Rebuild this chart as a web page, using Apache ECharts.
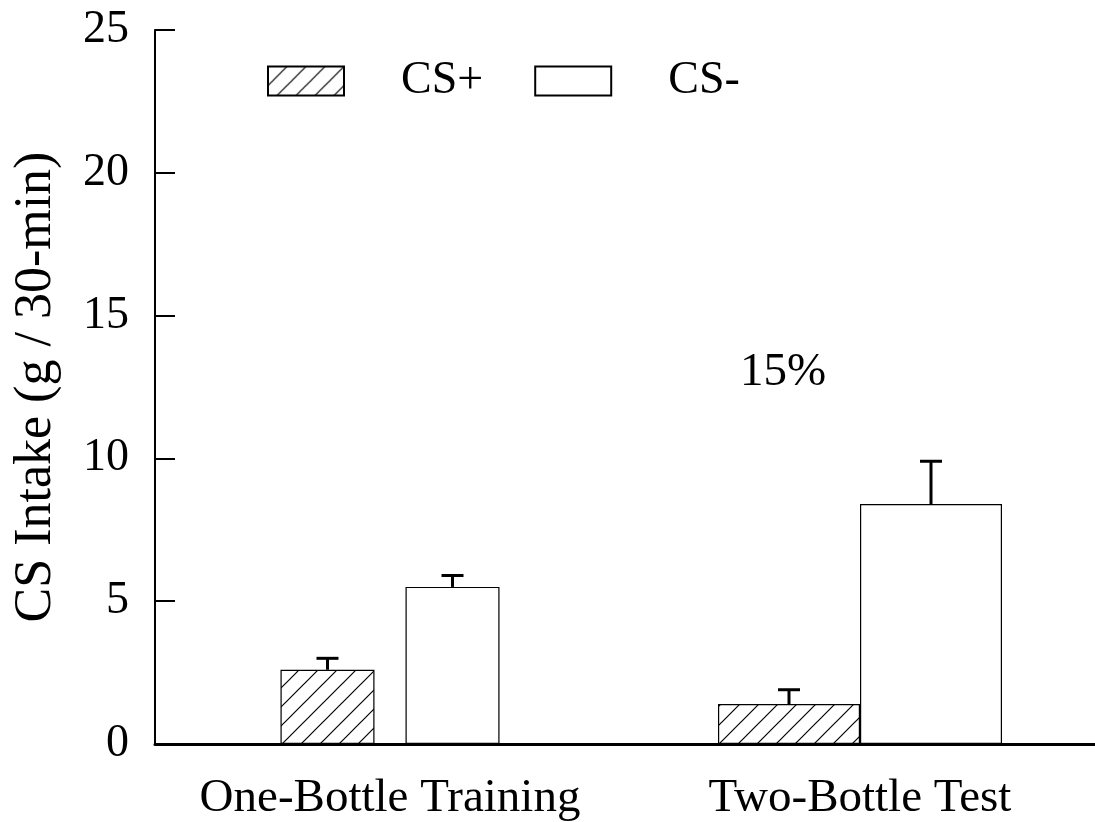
<!DOCTYPE html>
<html>
<head>
<meta charset="utf-8">
<script src="https://cdn.jsdelivr.net/npm/echarts@6/dist/echarts.min.js"></script>
<style>
  html, body { margin: 0; padding: 0; background: #fff; }
  #chart { width: 1095px; height: 822px; }
</style>
</head>
<body>
<div id="chart"></div>
<script>
// Mean CS intake (g / 30-min) with SEM, per phase
const categories = ['One-Bottle Training', 'Two-Bottle Test'];
const seriesNames = ['CS+', 'CS-'];
const csPlusMean = [2.6, 1.4];
const csPlusSem = [0.4, 0.5];
const csMinusMean = [5.5, 8.4];
const csMinusSem = [0.4, 1.5];
const yTicks = [0, 5, 10, 15, 20, 25];
const concentrationNote = '15%';

const FONT = '"Liberation Serif", "Times New Roman", Times, serif';
const means = [csPlusMean, csMinusMean];
const sems = [csPlusSem, csMinusSem];

// bar width / spacing used in each phase group
const groupLayout = [
  { barWidth: 94, gapRatio: 0.33 },
  { barWidth: 142, gapRatio: 0 }
];

// diagonal "///" hatch fill
function hatchPattern() {
  const s = 19;
  const c = document.createElement('canvas');
  c.width = s; c.height = s;
  const g = c.getContext('2d');
  g.fillStyle = '#fff';
  g.fillRect(0, 0, s, s);
  g.strokeStyle = '#000';
  g.lineWidth = 1.2;
  g.beginPath();
  g.moveTo(-1, s + 1); g.lineTo(s + 1, -1);
  g.moveTo(-1, 1); g.lineTo(1, -1);
  g.moveTo(s - 1, s + 1); g.lineTo(s + 1, s - 1);
  g.stroke();
  return { image: c, repeat: 'repeat' };
}
const hatch = hatchPattern();
const fills = [hatch, '#ffffff'];

const series = [];
groupLayout.forEach((lay, g) => {
  seriesNames.forEach((name, k) => {
    series.push({
      name: name,
      type: 'bar',
      xAxisIndex: g,
      barWidth: lay.barWidth,
      barGap: (lay.gapRatio * 100) + '%',
      data: categories.map((_, i) => (i === g ? means[k][i] : '-')),
      itemStyle: { color: fills[k], borderColor: '#000', borderWidth: 1.2 },
      emphasis: { disabled: true },
      animation: false
    });
  });
  // upward SEM whiskers for this group
  series.push({
    type: 'custom',
    name: 'sem-' + g,
    xAxisIndex: g,
    z: 5,
    silent: true,
    animation: false,
    encode: { x: 0, y: 1 },
    data: seriesNames.map((_, k) => [g, means[k][g], sems[k][g], k]),
    renderItem: function (params, api) {
      const w = lay.barWidth;
      const total = 2 * w + w * lay.gapRatio;
      const slot = api.value(3);
      const offset = slot === 0 ? -total / 2 + w / 2 : total / 2 - w / 2;
      const top = api.coord([api.value(0), api.value(1)]);
      const hi = api.coord([api.value(0), api.value(1) + api.value(2)]);
      const x = top[0] + offset;
      const st = { stroke: '#000', lineWidth: 3 };
      return {
        type: 'group',
        children: [
          { type: 'line', shape: { x1: x, y1: top[1], x2: x, y2: hi[1] }, style: st },
          { type: 'line', shape: { x1: x - 11, y1: hi[1], x2: x + 11, y2: hi[1] }, style: st }
        ]
      };
    }
  });
});

const chart = echarts.init(document.getElementById('chart'), null, { renderer: 'canvas' });
chart.setOption({
  backgroundColor: '#ffffff',
  animation: false,
  grid: { left: 155, right: -4, top: 30, bottom: 77, containLabel: false },
  legend: {
    data: seriesNames,
    left: 267,
    top: 58,
    padding: 0,
    itemWidth: 76,
    itemHeight: 29,
    itemGap: 51,
    icon: 'rect',
    selectedMode: false,
    textStyle: { fontFamily: FONT, fontSize: 46, color: '#000', padding: [0, 0, 0, 52] }
  },
  xAxis: [
    {
      type: 'category',
      data: categories,
      axisLine: { show: true, lineStyle: { color: '#000', width: 3 } },
      axisTick: { show: false },
      axisLabel: { fontFamily: FONT, fontSize: 47, color: '#000', margin: 31, interval: 0, hideOverlap: false },
      splitLine: { show: false }
    },
    {
      type: 'category',
      data: categories,
      show: false
    }
  ],
  yAxis: {
    type: 'value',
    min: yTicks[0],
    max: yTicks[yTicks.length - 1],
    interval: yTicks[1] - yTicks[0],
    name: 'CS Intake (g / 30-min)',
    nameLocation: 'middle',
    nameRotate: 90,
    nameGap: 93,
    nameTextStyle: { fontFamily: FONT, fontSize: 52, color: '#000' },
    axisLine: { show: true, lineStyle: { color: '#000', width: 2 } },
    axisTick: { show: true, inside: true, length: 20, lineStyle: { color: '#000', width: 2 } },
    axisLabel: { fontFamily: FONT, fontSize: 46, color: '#000', margin: 26 },
    splitLine: { show: false }
  },
  graphic: [
    {
      type: 'text',
      left: 740,
      top: 349,
      style: { text: concentrationNote, font: '47px ' + FONT, fill: '#000' }
    }
  ],
  series: series
});
</script>
</body>
</html>
